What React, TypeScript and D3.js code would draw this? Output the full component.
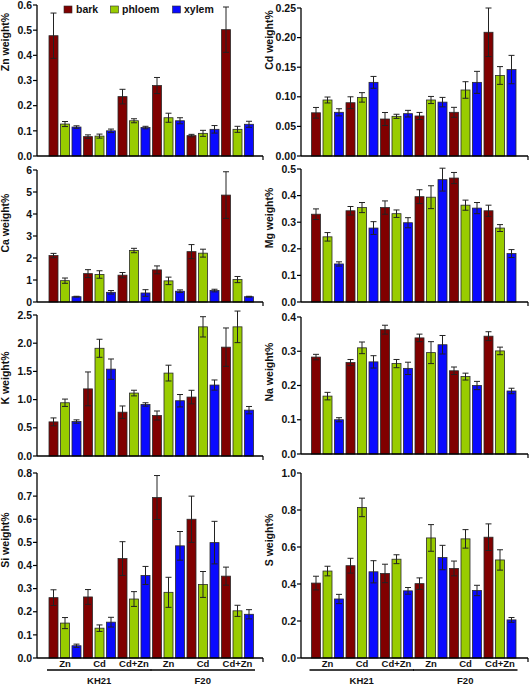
import React from "react";
import * as d3 from "d3";

// Order of groups: KH21 Zn, KH21 Cd, KH21 Cd+Zn, F20 Zn, F20 Cd, F20 Cd+Zn
const treatments = ["Zn", "Cd", "Cd+Zn", "Zn", "Cd", "Cd+Zn"];
const clones = ["KH21", "F20"];
const tissues = ["bark", "phloem", "xylem"];

// [bark, phloem, xylem] x 6 groups
const znMean = [
  [0.478, 0.077, 0.236, 0.28, 0.081, 0.502],
  [0.127, 0.079, 0.14, 0.152, 0.09, 0.106],
  [0.115, 0.1, 0.113, 0.14, 0.106, 0.126],
];
const znErr = [
  [0.09, 0.007, 0.029, 0.032, 0.005, 0.09],
  [0.01, 0.008, 0.008, 0.018, 0.012, 0.012],
  [0.005, 0.007, 0.005, 0.012, 0.015, 0.012],
];
const cdMean = [
  [0.073, 0.09, 0.0625, 0.0676, 0.0738, 0.209],
  [0.0946, 0.099, 0.067, 0.0946, 0.1115, 0.136],
  [0.0738, 0.1244, 0.0715, 0.091, 0.1244, 0.146],
];
const cdErr = [
  [0.009, 0.01, 0.011, 0.006, 0.0084, 0.041],
  [0.005, 0.008, 0.0035, 0.006, 0.014, 0.015],
  [0.006, 0.01, 0.0056, 0.008, 0.0186, 0.024],
];
const caMean = [
  [2.11, 1.29, 1.22, 1.46, 2.29, 4.86],
  [0.97, 1.25, 2.34, 0.96, 2.22, 1.02],
  [0.24, 0.44, 0.41, 0.49, 0.52, 0.24],
];
const caErr = [
  [0.1, 0.18, 0.12, 0.18, 0.32, 1.06],
  [0.12, 0.17, 0.1, 0.17, 0.18, 0.14],
  [0.02, 0.08, 0.15, 0.06, 0.06, 0.02],
];
const mgMean = [
  [0.33, 0.343, 0.355, 0.396, 0.466, 0.343],
  [0.245, 0.355, 0.332, 0.394, 0.364, 0.278],
  [0.143, 0.278, 0.298, 0.46, 0.353, 0.182],
];
const mgErr = [
  [0.02, 0.016, 0.025, 0.026, 0.021, 0.021],
  [0.016, 0.019, 0.014, 0.043, 0.019, 0.013],
  [0.008, 0.024, 0.019, 0.043, 0.021, 0.015],
];
const kMean = [
  [0.605, 1.19, 0.777, 0.718, 1.045, 1.93],
  [0.944, 1.91, 1.116, 1.47, 2.29, 2.29],
  [0.611, 1.54, 0.914, 0.98, 1.258, 0.813],
];
const kErr = [
  [0.07, 0.3, 0.11, 0.08, 0.12, 0.34],
  [0.065, 0.16, 0.05, 0.14, 0.18, 0.28],
  [0.03, 0.18, 0.03, 0.11, 0.09, 0.065],
];
const naMean = [
  [0.283, 0.267, 0.363, 0.339, 0.243, 0.344],
  [0.169, 0.31, 0.264, 0.296, 0.226, 0.301],
  [0.1, 0.269, 0.25, 0.319, 0.2, 0.184],
];
const naErr = [
  [0.008, 0.009, 0.013, 0.011, 0.011, 0.013],
  [0.011, 0.017, 0.012, 0.032, 0.01, 0.011],
  [0.006, 0.018, 0.018, 0.027, 0.012, 0.008],
];
const siMean = [
  [0.261, 0.264, 0.43, 0.694, 0.6, 0.354],
  [0.151, 0.129, 0.255, 0.284, 0.318, 0.204],
  [0.053, 0.155, 0.357, 0.485, 0.499, 0.189],
];
const siErr = [
  [0.034, 0.032, 0.073, 0.095, 0.1, 0.039],
  [0.024, 0.014, 0.032, 0.065, 0.056, 0.024],
  [0.007, 0.021, 0.039, 0.062, 0.092, 0.02],
];
const sMean = [
  [0.405, 0.499, 0.457, 0.402, 0.484, 0.653],
  [0.47, 0.814, 0.534, 0.649, 0.644, 0.53],
  [0.319, 0.466, 0.363, 0.543, 0.365, 0.206],
];
const sErr = [
  [0.037, 0.04, 0.05, 0.031, 0.04, 0.072],
  [0.026, 0.05, 0.024, 0.072, 0.05, 0.055],
  [0.025, 0.06, 0.018, 0.066, 0.028, 0.013],
];

const colors = ["#800000", "#99cc00", "#0a0aff"];
const FONT = "'Liberation Sans', Arial, Helvetica, sans-serif";

type PanelCfg = {
  label: string;
  mean: number[][];
  err: number[][];
  max: number;
  step: number;
  fmt: string;
  col: number;
  top: number;
  bottom: number;
  labelY: number;
  xLabels?: boolean;
};

const panels: PanelCfg[] = [
  { label: "Zn weight%", mean: znMean, err: znErr, max: 0.6, step: 0.1, fmt: ".1f", col: 0, top: 5, bottom: 156, labelY: 42 },
  { label: "Cd weight%", mean: cdMean, err: cdErr, max: 0.25, step: 0.05, fmt: ".2f", col: 1, top: 8, bottom: 156, labelY: 40 },
  { label: "Ca weight%", mean: caMean, err: caErr, max: 6, step: 1, fmt: "d", col: 0, top: 170, bottom: 302, labelY: 223 },
  { label: "Mg weight%", mean: mgMean, err: mgErr, max: 0.5, step: 0.1, fmt: ".1f", col: 1, top: 169, bottom: 302, labelY: 218 },
  { label: "K weight%", mean: kMean, err: kErr, max: 2.5, step: 0.5, fmt: ".1f", col: 0, top: 315, bottom: 456, labelY: 378 },
  { label: "Na weight%", mean: naMean, err: naErr, max: 0.4, step: 0.1, fmt: ".1f", col: 1, top: 317, bottom: 454, labelY: 372 },
  { label: "Si weight%", mean: siMean, err: siErr, max: 0.8, step: 0.1, fmt: ".1f", col: 0, top: 473, bottom: 658, labelY: 540, xLabels: true },
  { label: "S weight%", mean: sMean, err: sErr, max: 1.0, step: 0.2, fmt: ".1f", col: 1, top: 473, bottom: 658, labelY: 540, xLabels: true },
];

const columns = [
  { axisX: 37, endX: 263, firstBar: 49, labelX: 9 },
  { axisX: 301, endX: 528, firstBar: 311.5, labelX: 273 },
];

function Panel({ cfg }: { cfg: PanelCfg }) {
  const c = columns[cfg.col];
  const y = d3.scaleLinear().domain([0, cfg.max]).range([cfg.bottom, cfg.top]);
  const n = treatments.length * tissues.length;
  const idx = d3.range(n).map(String);
  const step = 11.5;
  const x = d3
    .scaleBand<string>()
    .domain(idx)
    .range([c.firstBar - 1.25, c.firstBar - 1.25 + n * step])
    .paddingInner(0.217)
    .paddingOuter(0.1085);
  const bw = x.bandwidth();
  const ticks = d3.range(0, cfg.max + cfg.step / 2, cfg.step);
  const f = d3.format(cfg.fmt);

  const bars: React.ReactNode[] = [];
  treatments.forEach((_, g) => {
    tissues.forEach((_, t) => {
      const i = g * 3 + t;
      const v = cfg.mean[t][g];
      const e = cfg.err[t][g];
      const bx = x(String(i))!;
      const cx = bx + bw / 2;
      bars.push(
        <g key={i}>
          <rect x={bx} y={y(v)} width={bw} height={y(0) - y(v)} fill={colors[t]} stroke="#2a2a2a" strokeWidth={0.8} />
          <line x1={cx} x2={cx} y1={y(v - e)} y2={y(v + e)} stroke="#222" strokeWidth={1} />
          <line x1={cx - 3} x2={cx + 3} y1={y(v + e)} y2={y(v + e)} stroke="#222" strokeWidth={1} />
          <line x1={cx - 3} x2={cx + 3} y1={y(v - e)} y2={y(v - e)} stroke="#222" strokeWidth={1} />
        </g>
      );
    });
  });

  return (
    <g>
      {bars}
      {/* y axis */}
      <line x1={c.axisX} x2={c.axisX} y1={y(0)} y2={y(cfg.max)} stroke="#000" strokeWidth={1.3} />
      {ticks.map((t) => (
        <g key={t}>
          <line x1={c.axisX - 4} x2={c.axisX} y1={y(t)} y2={y(t)} stroke="#000" strokeWidth={1.2} />
          <text x={c.axisX - 5} y={y(t)} dy="0.35em" textAnchor="end" fontSize={10.5} fontWeight="bold" fontFamily={FONT} fill="#111">
            {f(t)}
          </text>
        </g>
      ))}
      {/* x axis */}
      <line x1={c.axisX} x2={c.endX} y1={y(0)} y2={y(0)} stroke="#000" strokeWidth={1.3} />
      <line x1={c.endX} x2={c.endX} y1={y(0)} y2={y(0) + 4} stroke="#000" strokeWidth={1.2} />
      {/* y label */}
      <text
        transform={`translate(${c.labelX},${cfg.labelY}) rotate(-90)`}
        textAnchor="middle"
        fontSize={10.5}
        fontWeight="bold"
        fontFamily={FONT}
        fill="#111"
      >
        {cfg.label}
      </text>
      {cfg.xLabels && (
        <g>
          {treatments.map((tr, g) => {
            const cx = x(String(g * 3 + 1))! + bw / 2;
            return (
              <text key={g} x={cx} y={667} textAnchor="middle" fontSize={9.5} fontWeight="bold" fontFamily={FONT} fill="#111">
                {tr}
              </text>
            );
          })}
          {clones.map((cl, k) => {
            const x1 = x(String(k * 9))! - 2;
            const x2 = x(String(k * 9 + 8))! + bw + 1.5;
            return (
              <g key={cl}>
                <line x1={x1} x2={x2} y1={670} y2={670} stroke="#000" strokeWidth={1.5} />
                <text x={(x1 + x2) / 2} y={684} textAnchor="middle" fontSize={9.5} fontWeight="bold" fontFamily={FONT} fill="#111">
                  {cl}
                </text>
              </g>
            );
          })}
        </g>
      )}
    </g>
  );
}

function Legend() {
  const items = [
    { x: 64, tx: 76 },
    { x: 110.5, tx: 122 },
    { x: 172.5, tx: 184 },
  ];
  return (
    <g>
      {tissues.map((t, i) => (
        <g key={t}>
          <rect x={items[i].x} y={6} width={8} height={7} fill={colors[i]} stroke="#2a2a2a" strokeWidth={0.6} />
          <text x={items[i].tx} y={13} fontSize={10.5} fontWeight="bold" fontFamily={FONT} fill="#111">
            {t}
          </text>
        </g>
      ))}
    </g>
  );
}

export default function App() {
  return (
    <svg width={530} height={686} style={{ position: "absolute", left: 0, top: 0, background: "#fff" }}>
      <rect width={530} height={686} fill="#fff" />
      {panels.map((p) => (
        <Panel key={p.label} cfg={p} />
      ))}
      <Legend />
    </svg>
  );
}
